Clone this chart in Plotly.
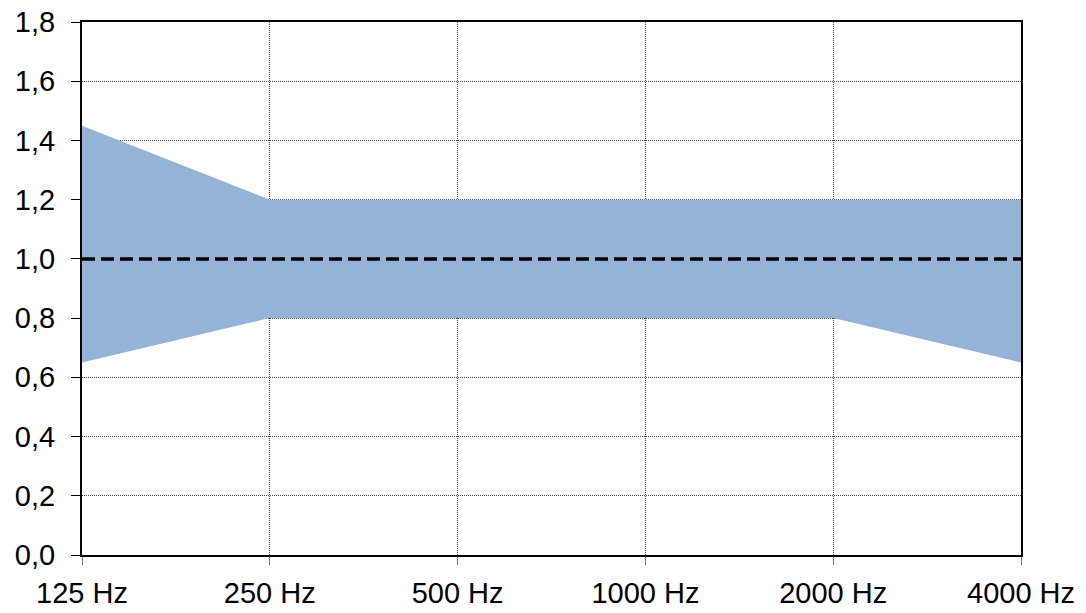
import plotly.graph_objects as go

categories = ["125 Hz", "250 Hz", "500 Hz", "1000 Hz", "2000 Hz", "4000 Hz"]
upper = [1.45, 1.2, 1.2, 1.2, 1.2, 1.2]
lower = [0.65, 0.8, 0.8, 0.8, 0.8, 0.65]
reference = [1.0, 1.0, 1.0, 1.0, 1.0, 1.0]
y_ticks = [0.0, 0.2, 0.4, 0.6, 0.8, 1.0, 1.2, 1.4, 1.6, 1.8]
y_tick_labels = ["0,0", "0,2", "0,4", "0,6", "0,8", "1,0", "1,2", "1,4", "1,6", "1,8"]

xs = list(range(len(categories)))
FONT = "Liberation Sans, Arial, sans-serif"

fig = go.Figure()
fig.add_trace(go.Scatter(x=xs, y=lower, mode="lines", line=dict(width=0),
                         showlegend=False, hoverinfo="skip"))
fig.add_trace(go.Scatter(x=xs, y=upper, mode="lines", line=dict(width=0),
                         fill="tonexty", fillcolor="#95b3d7",
                         showlegend=False, hoverinfo="skip"))
fig.add_trace(go.Scatter(x=xs, y=reference, mode="lines",
                         line=dict(color="black", width=3.5, dash="13px,6px"),
                         showlegend=False))

fig.update_layout(
    width=1086, height=613,
    margin=dict(l=82, r=65, t=22, b=58, autoexpand=False),
    paper_bgcolor="white", plot_bgcolor="white",
    font=dict(family=FONT, size=29, color="black"),
)
fig.update_xaxes(
    range=[0, 5], tickmode="array", tickvals=xs, ticktext=categories,
    tickfont=dict(size=29, family=FONT, color="black"),
    showgrid=True, gridcolor="#444444", gridwidth=1, griddash="1px,1px",
    showline=True, linecolor="black", linewidth=2, mirror=True,
    ticks="outside", ticklen=8, tickcolor="#777777", tickwidth=1,
    ticklabelstandoff=3, ticklabeloverflow="allow",
    zeroline=False, fixedrange=True, automargin=False,
)
fig.update_yaxes(
    range=[0, 1.8], tickmode="array", tickvals=y_ticks, ticktext=y_tick_labels,
    tickfont=dict(size=29, family=FONT, color="black"),
    showgrid=True, gridcolor="#444444", gridwidth=1, griddash="1px,1px",
    showline=True, linecolor="black", linewidth=2, mirror=True,
    ticks="outside", ticklen=9, tickcolor="black", tickwidth=1,
    ticklabelstandoff=10, ticklabeloverflow="allow",
    zeroline=False, fixedrange=True, automargin=False,
)

fig.write_html("out.html",
               config={"displayModeBar": False, "staticPlot": True},
               post_script="document.body.style.margin='0px';document.body.style.overflow='hidden';")
